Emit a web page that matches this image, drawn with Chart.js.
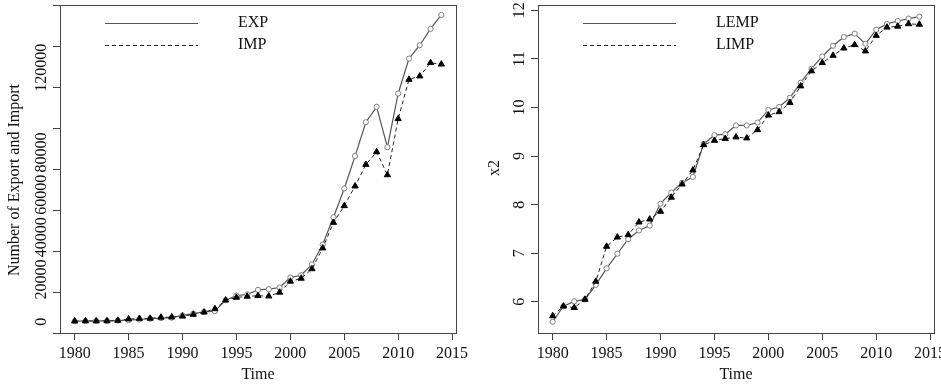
<!DOCTYPE html>
<html>
<head>
<meta charset="utf-8">
<script src="https://cdn.jsdelivr.net/npm/chart.js@4.4.1/dist/chart.umd.min.js"></script>
<style>
  body { margin: 0; background: #fff; }
  #wrap { position: relative; width: 941px; height: 391px; }
  canvas { position: absolute; top: 0; }
</style>
</head>
<body>
<div id="wrap">
  <canvas id="leftChart" width="470" height="391" style="left:0"></canvas>
  <canvas id="rightChart" width="471" height="391" style="left:470px"></canvas>
</div>
<script>
// data
const years = [1980,1981,1982,1983,1984,1985,1986,1987,1988,1989,1990,1991,1992,1993,1994,1995,1996,1997,1998,1999,2000,2001,2002,2003,2004,2005,2006,2007,2008,2009,2010,2011,2012,2013,2014];

const exp = [270,370,410,420,570,800,1090,1470,1750,1940,3030,3830,4670,5000,10200,12400,12900,15100,15400,16200,20900,22000,27100,36500,49400,63000,78300,94300,101600,82500,107900,124400,130700,138400,145000];
const imp = [300,370,360,420,610,1260,1520,1600,2080,2200,2600,3460,4530,6100,10200,11500,12000,12300,12100,13900,19100,20500,25000,34800,46900,54800,64100,74300,80300,69400,95900,114500,116100,122400,121700];

const lemp = [5.59,5.91,6.01,6.05,6.35,6.69,6.99,7.29,7.47,7.57,8.02,8.25,8.45,8.57,9.25,9.43,9.45,9.63,9.63,9.69,9.95,10.01,10.20,10.51,10.80,11.05,11.27,11.45,11.52,11.31,11.60,11.72,11.78,11.83,11.87];
const limp = [5.71,5.91,5.88,6.05,6.42,7.14,7.33,7.38,7.64,7.70,7.86,8.15,8.42,8.71,9.23,9.32,9.36,9.39,9.37,9.54,9.84,9.91,10.10,10.44,10.75,10.92,11.07,11.22,11.29,11.16,11.48,11.65,11.67,11.72,11.71];

const xTicks = [1980,1985,1990,1995,2000,2005,2010,2015];
const leftYLabels = ['0','20000','40000','60000','80000','120000'];
const rightYLabels = ['6','7','8','9','10','11','12'];

const FONT = '"Liberation Serif", "DejaVu Serif", serif';

const rPlot = {
  id: 'rPlot',
  afterDraw(chart, args, o) {
    const ctx = chart.ctx, a = chart.chartArea;
    ctx.save();
    // box round the plot region
    ctx.strokeStyle = '#444';
    ctx.lineWidth = 1;
    ctx.strokeRect(Math.round(a.left) + 0.5, Math.round(a.top) + 0.5, Math.round(a.right - a.left), Math.round(a.bottom - a.top));

    ctx.fillStyle = '#111';
    ctx.font = '16px ' + FONT;
    ctx.textAlign = 'center';
    ctx.textBaseline = 'middle';

    // y tick labels, rotated like R
    const ys = chart.scales.y;
    o.yLabels.forEach(t => {
      const py = ys.getPixelForValue(Number(t));
      ctx.save();
      ctx.translate(a.left - 18, py);
      ctx.rotate(-Math.PI / 2);
      ctx.fillText(t, 0, 0);
      ctx.restore();
    });

    // axis titles
    ctx.fillText('Time', (a.left + a.right) / 2, 375);
    ctx.save();
    ctx.translate(a.left - o.yTitleOff, o.yTitleY);
    ctx.rotate(-Math.PI / 2);
    ctx.fillText(o.yTitle, 0, 0);
    ctx.restore();

    // legend, no frame
    ctx.textAlign = 'left';
    chart.data.datasets.forEach((ds, i) => {
      const ly = 23 + i * 22;
      ctx.beginPath();
      ctx.strokeStyle = ds.borderColor;
      ctx.lineWidth = 1;
      ctx.setLineDash(ds.borderDash || []);
      ctx.moveTo(a.left + 45, ly + 0.5);
      ctx.lineTo(a.left + 138, ly + 0.5);
      ctx.stroke();
      ctx.setLineDash([]);
      ctx.fillText(ds.label, a.left + 178, ly);
    });
    ctx.restore();
  }
};

function makeChart(id, labels, s1, s2, yMin, yMax, yStep, padRight, yWidth, extra) {
  const pts = arr => years.map((yr, i) => ({ x: yr, y: arr[i] }));
  return new Chart(document.getElementById(id), {
    type: 'line',
    data: {
      datasets: [
        {
          label: labels[0],
          data: pts(s1),
          borderColor: '#555',
          borderWidth: 1.2,
          pointStyle: 'circle',
          pointRadius: 2.6,
          pointBorderWidth: 1,
          pointBorderColor: '#808080',
          pointBackgroundColor: '#fff',
          tension: 0,
          order: 1
        },
        {
          label: labels[1],
          data: pts(s2),
          borderColor: '#222',
          borderWidth: 1,
          borderDash: [4, 3],
          pointStyle: 'triangle',
          pointRadius: 3.6,
          pointBorderWidth: 1,
          pointBorderColor: '#000',
          pointBackgroundColor: '#000',
          tension: 0,
          order: 0
        }
      ]
    },
    options: {
      responsive: false,
      animation: false,
      layout: { padding: { left: 0, right: padRight, top: 3, bottom: 0 } },
      plugins: {
        legend: { display: false },
        tooltip: { enabled: false },
        rPlot: extra
      },
      scales: {
        x: {
          type: 'linear',
          min: 1978.64,
          max: 2015.36,
          afterBuildTicks: s => { s.ticks = xTicks.map(v => ({ value: v })); },
          afterFit: s => { s.height = 58; s.paddingLeft = 0; s.paddingRight = 0; },
          ticks: {
            includeBounds: false,
            autoSkip: false,
            maxRotation: 0,
            padding: 4,
            color: '#111',
            font: { family: FONT, size: 16 },
            callback: v => String(v)
          },
          grid: { drawOnChartArea: false, drawTicks: true, tickLength: 7, color: '#444' },
          border: { display: false }
        },
        y: {
          type: 'linear',
          min: yMin,
          max: yMax,
          ticks: { display: false, stepSize: yStep, includeBounds: false },
          afterFit: s => { s.width = yWidth; s.paddingTop = 0; s.paddingBottom = 0; },
          grid: { drawOnChartArea: false, drawTicks: true, tickLength: 7, color: '#444' },
          border: { display: false }
        }
      }
    },
    plugins: [rPlot]
  });
}

makeChart('leftChart', ['EXP', 'IMP'], exp, imp, -5300, 149700, 20000, 14, 60,
  { yLabels: leftYLabels, yTitle: 'Number of Export and Import', yTitleOff: 45, yTitleY: 180 });

makeChart('rightChart', ['LEMP', 'LIMP'], lemp, limp, 5.359, 12.109, 1, 7, 68,
  { yLabels: rightYLabels, yTitle: 'x2', yTitleOff: 43, yTitleY: 168 });
</script>
</body>
</html>
